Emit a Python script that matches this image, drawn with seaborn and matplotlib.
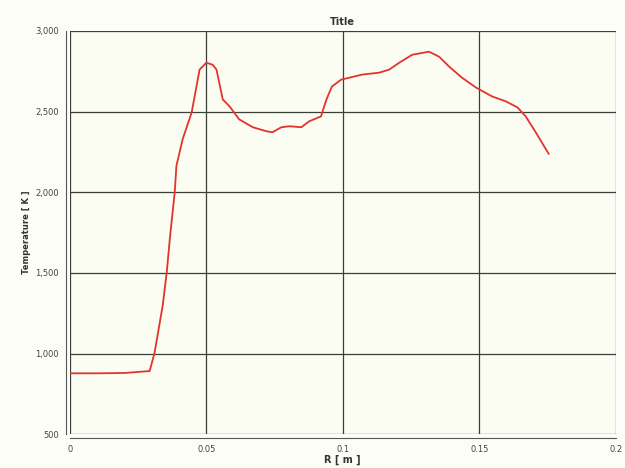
import pandas as pd
import matplotlib.pyplot as plt
import matplotlib.ticker as mticker
import numpy as np
import seaborn as sns

# radius [m] and temperature [K]
radius = [0.0, 0.010, 0.020, 0.0292, 0.031, 0.034, 0.0355, 0.0366, 0.0384, 0.039,
          0.0413, 0.0446, 0.0475, 0.050, 0.0523, 0.0537, 0.056, 0.0585, 0.062,
          0.067, 0.072, 0.0742, 0.0775, 0.0804, 0.0848, 0.0877, 0.092, 0.094,
          0.096, 0.0994, 0.1024, 0.107, 0.1133, 0.117, 0.1207, 0.1254, 0.1316,
          0.1353, 0.139, 0.1437, 0.1488, 0.1547, 0.1598, 0.164, 0.167, 0.1707,
          0.1755]
temperature = [878, 878, 880, 892, 1005, 1300, 1510, 1713, 2003, 2163,
               2329, 2495, 2760, 2803, 2790, 2760, 2575, 2532, 2452,
               2403, 2378, 2372, 2403, 2409, 2403, 2440, 2470, 2575,
               2655, 2698, 2710, 2729, 2741, 2760, 2803, 2852, 2871,
               2840, 2778, 2710, 2649, 2594, 2563, 2526, 2471, 2372,
               2237]

df = pd.DataFrame({'R': radius, 'T': temperature})

sns.set_style('white')
plt.rcParams['font.family'] = ['DejaVu Sans']

fig = plt.figure(figsize=(6.25, 4.68), dpi=100, facecolor='#fdfdf8')
ax = fig.add_axes([0.112, 0.072, 0.873, 0.862])
ax.set_facecolor('#fbfcf2')

sns.lineplot(data=df, x='R', y='T', ax=ax, color='#e2342c', linewidth=1.3)

ax.set_xlim(0, 0.2)
ax.set_ylim(500, 3000)
ax.xaxis.set_major_locator(mticker.MultipleLocator(0.05))
ax.xaxis.set_minor_locator(mticker.MultipleLocator(0.01))
ax.yaxis.set_major_locator(mticker.MultipleLocator(500))
ax.yaxis.set_minor_locator(mticker.MultipleLocator(100))
ax.xaxis.set_major_formatter(mticker.FuncFormatter(lambda v, p: '0' if v == 0 else f'{v:g}'))
ax.yaxis.set_major_formatter(mticker.FuncFormatter(lambda v, p: f'{int(v):,}'))

ax.grid(True, which='major', color='#3a3f3a', linewidth=0.9)
for s in ['left', 'bottom']:
    ax.spines[s].set_position(('outward', 3))
    ax.spines[s].set_color('#555555')
    ax.spines[s].set_linewidth(0.8)
for s in ['top', 'right']:
    ax.spines[s].set_visible(False)

ax.tick_params(which='major', length=4, width=0.8, color='#555555', labelsize=6, labelcolor='#444444', pad=1)
ax.tick_params(which='minor', length=2.5, width=0.6, color='#777777')

ax.set_title('Title', fontsize=7, fontweight='bold', color='#333333', pad=4)
ax.set_xlabel('R [ m ]', fontsize=7, fontweight='bold', color='#333333', labelpad=0)
ax.set_ylabel('Temperature [ K ]', fontsize=6, fontweight='bold', color='#333333', labelpad=3)

plt.savefig('out.png', dpi=100, facecolor=fig.get_facecolor())
